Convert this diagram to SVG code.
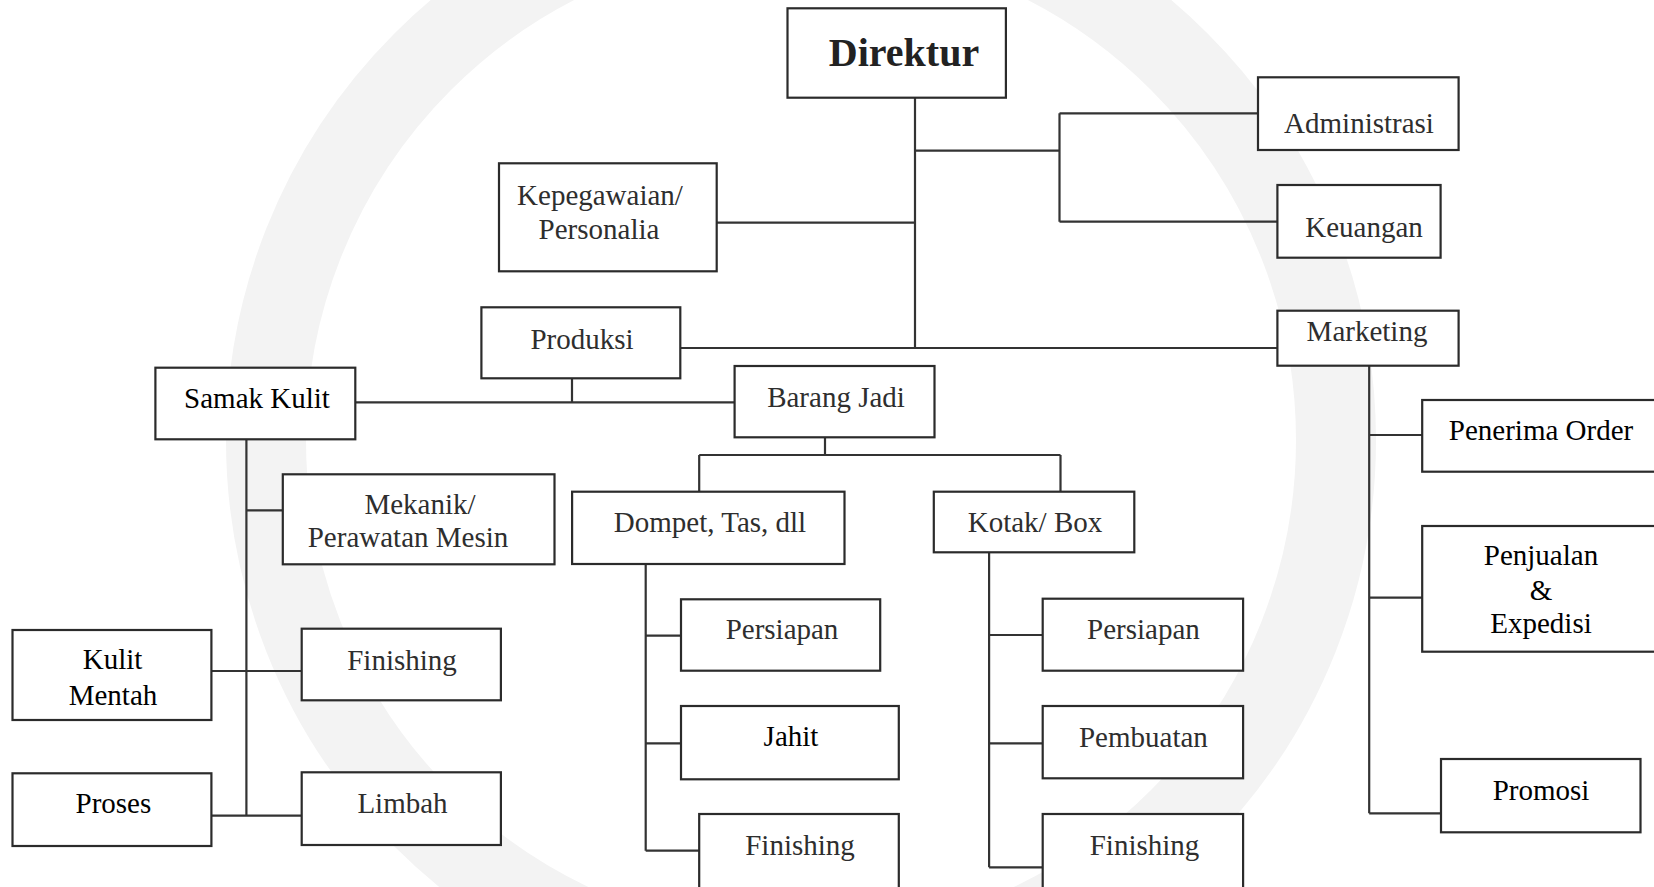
<svg xmlns="http://www.w3.org/2000/svg" width="1654" height="887" viewBox="0 0 1654 887">
<style>
.box{fill:#fff;stroke:#2b2b2b;stroke-width:2.2}
.ln{fill:none;stroke:#333;stroke-width:2.2}
.t{font-family:"Liberation Serif","Times New Roman",serif;font-size:29px;fill:#2e2e2e;text-anchor:middle}
.k{fill:#000}
</style>
<rect width="1654" height="887" fill="#fff"/>
<g id="watermark">
<circle cx="801" cy="440" r="535" fill="none" stroke="#f3f3f3" stroke-width="80"/>
</g>
<g id="connectors">
<path class="ln" d="M915 97.7V348M915 150.7H1059.5M1059.5 113.3V221.7M1059.5 113.3H1258M1059.5 221.7H1277.4M716.7 222.7H915M680.3 348H1277.4"/>
<path class="ln" d="M572 378.3V402.3M355.3 402.3H734.6M825 437.3V455M699.2 455H1060.5M699.2 455V491.7M1060.5 455V491.7"/>
<path class="ln" d="M246.4 439.3V815.7M246.4 510.3H282.8M211.4 671H301.7M211.4 815.7H301.7"/>
<path class="ln" d="M645.7 564V850.7M645.7 635.7H681M645.7 743.3H681M645.7 850.7H699.2"/>
<path class="ln" d="M989.1 552.3V867.3M989.1 635H1042.7M989.1 743.3H1042.7M989.1 867.3H1042.7"/>
<path class="ln" d="M1369.2 365.7V813.3M1369.2 435H1422.2M1369.2 597.7H1422.2M1369.2 813.3H1441"/>
</g>
<g id="direktur"><rect class="box" x="787.5" y="8.3" width="218.4" height="89.4"/><text class="t" x="904" y="66" style="font-size:40px;font-weight:bold;fill:#222">Direktur</text></g>
<g id="administrasi"><rect class="box" x="1258" y="77.3" width="200.6" height="72.7"/><text class="t" x="1359" y="133">Administrasi</text></g>
<g id="keuangan"><rect class="box" x="1277.4" y="185" width="163.2" height="72.7"/><text class="t" x="1364" y="236.5">Keuangan</text></g>
<g id="kepegawaian"><rect class="box" x="499" y="163.3" width="217.7" height="108"/><text class="t" x="600" y="205">Kepegawaian/</text><text class="t" x="599" y="239">Personalia</text></g>
<g id="produksi"><rect class="box" x="481.4" y="307.3" width="198.9" height="71"/><text class="t" x="582" y="348.6">Produksi</text></g>
<g id="marketing"><rect class="box" x="1277.4" y="310.7" width="181.2" height="55"/><text class="t" x="1367" y="340.5">Marketing</text></g>
<g id="samak-kulit"><rect class="box" x="155.4" y="367.7" width="199.9" height="71.6"/><text class="t k" x="257" y="408">Samak Kulit</text></g>
<g id="barang-jadi"><rect class="box" x="734.6" y="366" width="199.9" height="71.3"/><text class="t" x="836" y="406.5">Barang Jadi</text></g>
<g id="penerima-order"><rect class="box" x="1422.2" y="400" width="240" height="71.7"/><text class="t k" x="1541" y="439.5">Penerima Order</text></g>
<g id="mekanik"><rect class="box" x="282.8" y="474.3" width="271.7" height="90"/><text class="t" x="420" y="514">Mekanik/</text><text class="t" x="408" y="547.3">Perawatan Mesin</text></g>
<g id="dompet"><rect class="box" x="572.1" y="491.7" width="272.4" height="72.3"/><text class="t" x="710" y="531.7">Dompet, Tas, dll</text></g>
<g id="kotak"><rect class="box" x="933.8" y="491.7" width="200.5" height="60.6"/><text class="t" x="1035" y="531.7">Kotak/ Box</text></g>
<g id="penjualan"><rect class="box" x="1422.2" y="526" width="240" height="125.7"/><text class="t k" x="1541" y="565">Penjualan</text><text class="t k" x="1541" y="600">&amp;</text><text class="t k" x="1541" y="633.3">Expedisi</text></g>
<g id="persiapan-d"><rect class="box" x="681" y="599.3" width="199.2" height="71.4"/><text class="t" x="782" y="639.3">Persiapan</text></g>
<g id="persiapan-k"><rect class="box" x="1042.7" y="598.7" width="200.4" height="72"/><text class="t" x="1143.4" y="639.3">Persiapan</text></g>
<g id="kulit-mentah"><rect class="box" x="12.5" y="630" width="198.9" height="90"/><text class="t k" x="112.5" y="669.3">Kulit</text><text class="t k" x="113" y="705">Mentah</text></g>
<g id="finishing-s"><rect class="box" x="301.7" y="628.7" width="199.2" height="71.6"/><text class="t" x="402" y="670">Finishing</text></g>
<g id="jahit"><rect class="box" x="681" y="706" width="217.8" height="73.3"/><text class="t k" x="791" y="746">Jahit</text></g>
<g id="pembuatan"><rect class="box" x="1042.7" y="706" width="200.4" height="72.3"/><text class="t" x="1143.4" y="746.5">Pembuatan</text></g>
<g id="promosi"><rect class="box" x="1441" y="759" width="199.5" height="73.3"/><text class="t k" x="1541" y="800">Promosi</text></g>
<g id="proses"><rect class="box" x="12.5" y="773.3" width="198.9" height="72.7"/><text class="t k" x="113.4" y="813.3">Proses</text></g>
<g id="limbah"><rect class="box" x="301.7" y="772.3" width="199.2" height="72.7"/><text class="t" x="402.5" y="813.3">Limbah</text></g>
<g id="finishing-d"><rect class="box" x="699.2" y="814" width="199.6" height="80"/><text class="t" x="800" y="855">Finishing</text></g>
<g id="finishing-k"><rect class="box" x="1042.7" y="814" width="200.4" height="80"/><text class="t" x="1144.5" y="855">Finishing</text></g>
</svg>
